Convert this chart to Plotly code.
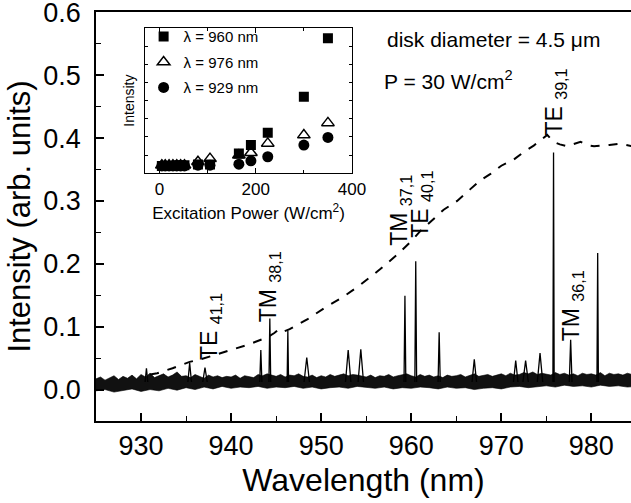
import plotly.graph_objects as go

FONT = "Liberation Sans, Arial, Helvetica, sans-serif"

# ---------------- main spectrum data ----------------
# noise band envelope of the PL baseline (intensity, arb. units x1e-3)
band_hi_start, band_hi_step = 925.0, 0.5
noise_hi = [17,20,15,19,22,16,21,18,23,17,
            24,20,26,19,22,25,20,23,28,21,
            22,19,24,21,18,23,20,22,19,21,
            20,23,18,22,21,19,24,22,25,23,
            21,24,20,23,22,25,21,20,23,19,
            22,20,24,21,23,25,22,24,23,21,
            20,23,19,22,21,24,20,22,23,25,
            22,20,24,21,23,20,22,19,23,21,
            22,24,20,23,25,21,22,24,21,23,
            25,22,26,23,24,27,25,28,24,26,
            25,23,27,24,26,23,25,22,26,24,
            25,23,27,22,26,24,25,23,26,24]
band_lo_start, band_lo_step = 925.0, 1.0
noise_lo = [-2,0,-4,-1,1,-3,0,-2,2,-1,
            3,0,4,1,5,2,4,3,5,2,
            4,3,5,2,4,1,3,4,2,5,
            3,2,4,1,3,2,4,3,1,4,
            2,3,0,2,3,1,4,5,3,4,
            6,4,7,5,6,4,7,5,6,4,
            5]

# sharp emission lines: centre wavelength (nm), peak intensity, half base width (nm)
peak_wl = [930.6, 935.4, 937.1, 943.3, 944.3, 946.3, 948.4, 953.0, 954.4,
           959.3, 960.5, 963.1, 967.0, 971.6, 972.7, 974.3, 975.8, 977.7, 980.7]
peak_int = [0.034, 0.042, 0.035, 0.063, 0.113, 0.094, 0.051, 0.063, 0.064,
            0.149, 0.204, 0.091, 0.048, 0.046, 0.046, 0.058, 0.377, 0.079, 0.217]
peak_hw = [0.15, 0.2, 0.25, 0.12, 0.1, 0.08, 0.3, 0.3, 0.3,
           0.1, 0.1, 0.12, 0.25, 0.25, 0.3, 0.3, 0.07, 0.15, 0.08]
peak_base = 0.012

# dashed curve
dash_wl = [931.0, 931.8, 933.5, 935.4, 936.6, 938.5, 940.0, 942.0, 944.0, 944.8,
           945.3, 945.8, 946.5, 948.5, 950.6, 952.5, 954.3, 956.6, 958.4, 960.0,
           961.0, 963.6, 965.1, 966.5, 967.7, 968.8, 970.0, 971.4, 972.5, 973.6,
           975.1, 975.8, 976.5, 977.3, 978.8, 979.5, 980.3, 982.0, 983.2, 984.5]
dash_int = [0.024, 0.026, 0.034, 0.044, 0.048, 0.056, 0.063, 0.072, 0.083, 0.090,
            0.096, 0.092, 0.096, 0.112, 0.132, 0.148, 0.166, 0.192, 0.214, 0.236,
            0.252, 0.286, 0.300, 0.318, 0.333, 0.343, 0.356, 0.366, 0.378, 0.388,
            0.405, 0.394, 0.390, 0.387, 0.394, 0.389, 0.387, 0.389, 0.391, 0.387]

x_ticks = [930, 940, 950, 960, 970, 980]
y_ticks = [0.0, 0.1, 0.2, 0.3, 0.4, 0.5, 0.6]
y_ticktext = ["0.0", "0.1", "0.2", "0.3", "0.4", "0.5", "0.6"]

# mode labels: text, wavelength, intensity of label centre
mode_text = ["TE <sub>41,1</sub>", "TM <sub>38,1</sub>", "TM <sub>37,1</sub>",
             "TE <sub>40,1</sub>", "TE <sub>39,1</sub>", "TM <sub>36,1</sub>"]
mode_wl = [937.7, 944.3, 958.8, 961.2, 976.0, 978.0]
mode_int = [0.100, 0.164, 0.285, 0.294, 0.457, 0.133]

# ---------------- inset data ----------------
inset_power = [5, 12, 20, 28, 36, 44, 52, 80, 105, 165, 190, 225, 300, 350]
inset_960 = [0.05, 0.05, 0.05, 0.05, 0.055, 0.055, 0.055, 0.06, 0.06, 0.136, 0.193, 0.278, 0.526, 0.929]
inset_976 = [0.055, 0.055, 0.055, 0.055, 0.055, 0.055, 0.055, 0.078, 0.10, 0.124, 0.140, 0.205, 0.262, 0.346]
inset_929 = [0.05, 0.05, 0.05, 0.05, 0.05, 0.05, 0.05, 0.055, 0.055, 0.062, 0.085, 0.113, 0.193, 0.246]

fig = go.Figure()

hi_x = [band_hi_start + i * band_hi_step for i in range(len(noise_hi))]
lo_x = [band_lo_start + i * band_lo_step for i in range(len(noise_lo))]
poly_x = hi_x + lo_x[::-1]
poly_y = [v / 1000 for v in noise_hi] + [v / 1000 for v in noise_lo[::-1]]
fig.add_trace(go.Scatter(x=poly_x, y=poly_y, mode="lines", fill="toself",
                         fillcolor="#111111", line=dict(color="black", width=0.6),
                         showlegend=False, hoverinfo="skip"))

px, py = [], []
for c, h, w in zip(peak_wl, peak_int, peak_hw):
    px += [c - w, c, c + w, None]
    py += [peak_base, h, peak_base, None]
fig.add_trace(go.Scatter(x=px, y=py, mode="lines", line=dict(color="black", width=1.3),
                         showlegend=False, hoverinfo="skip"))

fig.add_trace(go.Scatter(x=dash_wl, y=dash_int, mode="lines",
                         line=dict(color="black", width=2, dash="dash"),
                         showlegend=False))

fig.add_trace(go.Scatter(x=inset_power, y=inset_960, mode="markers", xaxis="x2", yaxis="y2",
                         name="\u03bb = 960 nm", legendgroup="a",
                         marker=dict(symbol="square", size=10, color="black")))
fig.add_trace(go.Scatter(x=inset_power, y=inset_976, mode="markers", xaxis="x2", yaxis="y2",
                         name="\u03bb = 976 nm", legendgroup="b",
                         marker=dict(symbol="triangle-up-open", size=11, color="black",
                                     line=dict(width=1.5, color="black"))))
fig.add_trace(go.Scatter(x=inset_power, y=inset_929, mode="markers", xaxis="x2", yaxis="y2",
                         name="\u03bb = 929 nm", legendgroup="c",
                         marker=dict(symbol="circle", size=11, color="black")))

annotations = []
for t, xw, yi in zip(mode_text, mode_wl, mode_int):
    annotations.append(dict(x=xw, y=yi, xref="x", yref="y", text=t, textangle=-90,
                            showarrow=False, xanchor="center", yanchor="middle",
                            font=dict(family=FONT, size=23, color="black")))
annotations.append(dict(x=0.540, y=0.932, xref="paper", yref="paper",
                        text="disk diameter = 4.5 \u03bcm", showarrow=False,
                        xanchor="left", yanchor="middle",
                        font=dict(family=FONT, size=21, color="black")))
annotations.append(dict(x=0.535, y=0.834, xref="paper", yref="paper",
                        text="P = 30 W/cm<sup>2</sup>", showarrow=False,
                        xanchor="left", yanchor="middle",
                        font=dict(family=FONT, size=21, color="black")))

fig.update_layout(
    width=631, height=503,
    margin=dict(l=96, r=0, t=12, b=82, autoexpand=False),
    paper_bgcolor="white", plot_bgcolor="white",
    font=dict(family=FONT, color="black"),
    showlegend=True,
    legend=dict(x=0.089, y=0.98, xanchor="left", yanchor="top",
                bgcolor="rgba(0,0,0,0)", font=dict(family=FONT, size=15),
                tracegroupgap=3, itemsizing="trace"),
    annotations=annotations,
    xaxis=dict(range=[925, 984.4], tickvals=x_ticks, ticks="inside", ticklen=8,
               tickwidth=1.5, tickcolor="black",
               minor=dict(dtick=5, tick0=925, ticks="inside", ticklen=5, tickwidth=1.2, tickcolor="black"),
               showline=True, linecolor="black", linewidth=1.5, mirror=True,
               showgrid=False, zeroline=False, automargin=False,
               ticklabeloverflow="allow",
               tickfont=dict(family=FONT, size=27), ticklabelstandoff=0,
               title=dict(text="Wavelength (nm)", font=dict(family=FONT, size=32), standoff=8)),
    yaxis=dict(range=[-0.05, 0.6005], tickvals=y_ticks, ticktext=y_ticktext,
               ticks="inside", ticklen=8, tickwidth=1.5, tickcolor="black",
               minor=dict(dtick=0.05, tick0=0, ticks="inside", ticklen=5, tickwidth=1.2, tickcolor="black"),
               showline=True, linecolor="black", linewidth=1.5, mirror=False,
               showgrid=False, zeroline=False, automargin=False,
               ticklabeloverflow="allow",
               tickfont=dict(family=FONT, size=27), ticklabelstandoff=8,
               title=dict(text="Intensity (arb. units)", font=dict(family=FONT, size=31), standoff=3)),
    xaxis2=dict(domain=[0.0916, 0.4785], anchor="y2", range=[-30, 400],
                tickvals=[0, 200, 400], ticks="inside", ticklen=5, tickcolor="black",
                minor=dict(dtick=100, ticks="inside", ticklen=3, tickcolor="black"),
                showline=True, linecolor="black", linewidth=1.2, mirror="ticks",
                showgrid=False, zeroline=False, automargin=False,
                tickfont=dict(family=FONT, size=17),
                title=dict(text="Excitation Power (W/cm<sup>2</sup>)",
                           font=dict(family=FONT, size=17), standoff=9)),
    yaxis2=dict(domain=[0.606, 0.961], anchor="x2", range=[0, 1],
                dtick=0.125, ticks="inside", ticklen=3, tickcolor="black",
                showticklabels=False,
                showline=True, linecolor="black", linewidth=1.2, mirror="ticks",
                showgrid=False, zeroline=False, automargin=False,
                title=dict(text="Intensity", font=dict(family=FONT, size=14), standoff=6)),
)

fig.write_html("out.html", config={"displayModeBar": False},
               post_script="document.body.style.margin='0px';document.body.style.overflow='hidden';")
